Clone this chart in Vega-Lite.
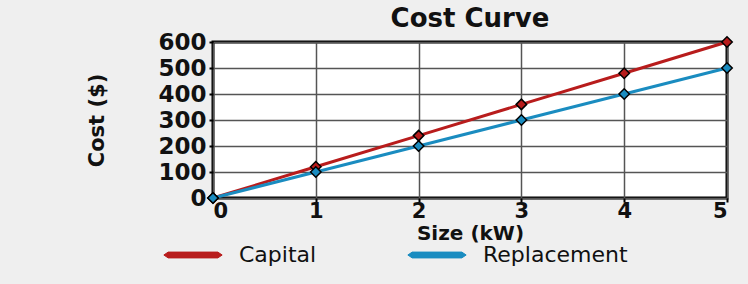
{
  "$schema": "https://vega.github.io/schema/vega-lite/v6.json",
  "autosize": "none",
  "width": 514,
  "height": 156,
  "padding": {"left": 213, "top": 42, "right": 21, "bottom": 86},
  "background": "#efefef",
  "title": {"text": "Cost Curve", "font": "DejaVu Sans", "fontSize": 26, "fontWeight": "bold", "color": "#111", "anchor": "middle", "offset": -1},
  "data": {"values": [
    {"size": 0, "cost": 0, "series": "Capital"},
    {"size": 1, "cost": 120, "series": "Capital"},
    {"size": 2, "cost": 240, "series": "Capital"},
    {"size": 3, "cost": 360, "series": "Capital"},
    {"size": 4, "cost": 480, "series": "Capital"},
    {"size": 5, "cost": 600, "series": "Capital"},
    {"size": 0, "cost": 0, "series": "Replacement"},
    {"size": 1, "cost": 100, "series": "Replacement"},
    {"size": 2, "cost": 200, "series": "Replacement"},
    {"size": 3, "cost": 300, "series": "Replacement"},
    {"size": 4, "cost": 400, "series": "Replacement"},
    {"size": 5, "cost": 500, "series": "Replacement"}
  ]},
  "config": {
    "view": {"stroke": "#000", "strokeWidth": 3, "fill": "#fff"},
    "axis": {"labelFont": "DejaVu Sans", "labelFontWeight": "bold", "labelFontSize": 23, "labelColor": "#111", "titleFont": "DejaVu Sans", "titleFontWeight": "bold", "titleFontSize": 20, "titleColor": "#111", "gridColor": "#555", "gridWidth": 1.5, "gridOpacity": 1, "tickColor": "#000", "tickWidth": 2, "tickSize": 4, "domain": false}
  },
  "encoding": {
    "x": {"field": "size", "type": "quantitative", "scale": {"domain": [0, 5], "nice": false}, "axis": {"values": [0, 1, 2, 3, 4, 5], "title": "Size (kW)", "labelPadding": -2, "titlePadding": 2, "labelFontSize": 21}},
    "y": {"field": "cost", "type": "quantitative", "scale": {"domain": [0, 600], "nice": false}, "axis": {"values": [0, 100, 200, 300, 400, 500, 600], "title": "Cost ($)", "labelPadding": 3, "titlePadding": 50, "titleFontSize": 21}},
    "color": {"field": "series", "type": "nominal", "scale": {"domain": ["Capital", "Replacement"], "range": ["#b81c1c", "#1a8cc0"]},
      "legend": {"orient": "none", "direction": "horizontal", "legendX": -50, "legendY": 183, "title": null, "symbolType": "M-1,0L-0.85,-0.1L0.85,-0.1L1,0L0.85,0.1L-0.85,0.1Z", "symbolStrokeWidth": 1, "symbolStrokeColor": "#400", "symbolSize": 3400, "labelFont": "DejaVu Sans", "labelFontSize": 22, "labelColor": "#111", "columnPadding": 88, "labelOffset": 16}}
  },
  "layer": [
    {"mark": {"type": "line", "strokeWidth": 3}},
    {"mark": {"type": "point", "shape": "diamond", "filled": true, "size": 110, "stroke": "#000", "strokeWidth": 1.5, "opacity": 1}}
  ]
}
